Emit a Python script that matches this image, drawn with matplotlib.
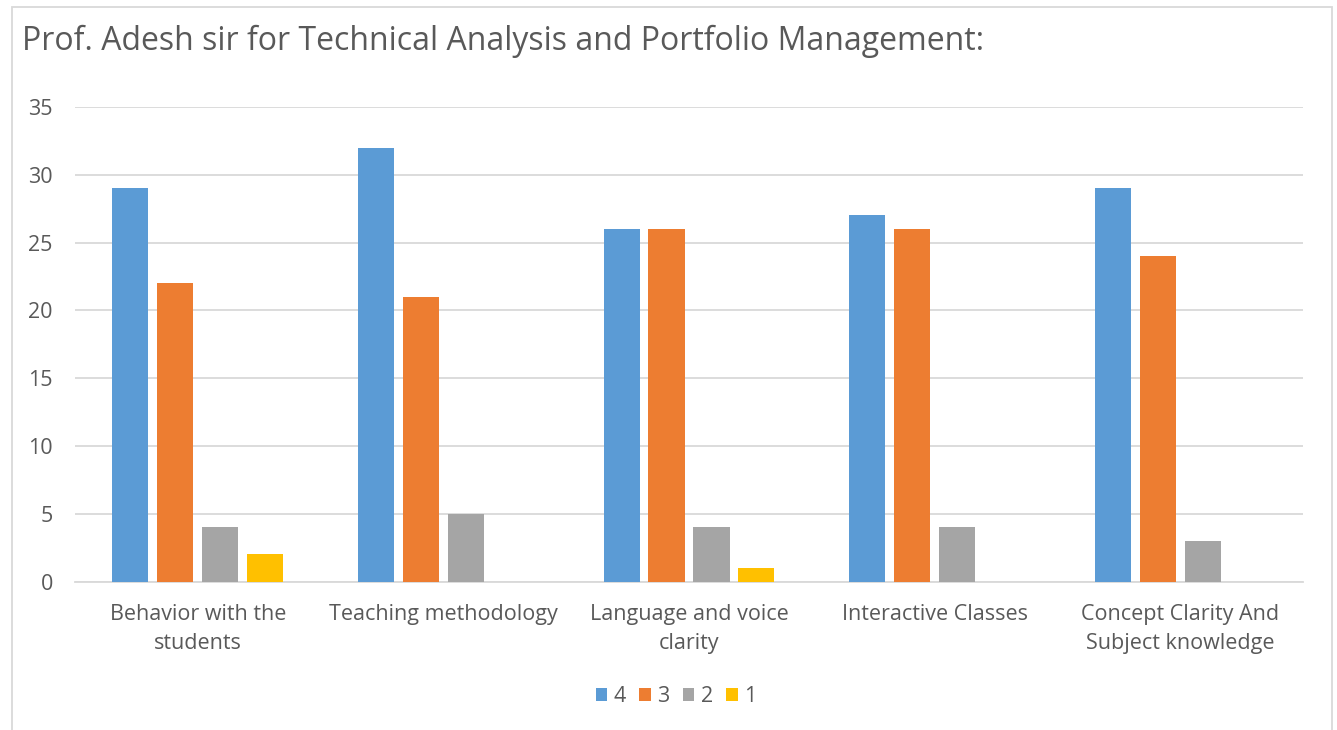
import numpy as np
import matplotlib
matplotlib.use("Agg")
import matplotlib.pyplot as plt
from matplotlib.patches import Rectangle

categories = ["Behavior with the\nstudents", "Teaching methodology",
              "Language and voice\nclarity", "Interactive Classes",
              "Concept Clarity And\nSubject knowledge"]
series_names = ["4", "3", "2", "1"]
score_4 = [29, 32, 26, 27, 29]
score_3 = [22, 21, 26, 26, 24]
score_2 = [4, 5, 4, 4, 3]
score_1 = [2, 0, 1, 0, 0]
colors = ["#5B9BD5", "#ED7D31", "#A5A5A5", "#FFC000"]

plt.rcParams["font.family"] = ["Open Sans", "DejaVu Sans"]
text_color = "#595959"
grid_color = "#D9D9D9"

fig = plt.figure(figsize=(13.37, 7.30), dpi=100)
ax = fig.add_axes([0.0561, 0.2034, 0.9185, 0.65])

x = np.arange(len(categories))
step = 0.183
width = 0.147
for i, (name, vals) in enumerate(zip(series_names, [score_4, score_3, score_2, score_1])):
    ax.bar(x + (i - 1.5) * step, vals, width, color=colors[i], label=name, zorder=3)

ax.set_xlim(-0.5, len(categories) - 0.5)
ax.set_ylim(0, 35)
ax.set_yticks(range(0, 36, 5))
ax.set_xticks(x)
ax.set_xticklabels(categories, linespacing=1.5)
ax.tick_params(axis="both", length=0, colors=text_color, labelsize=15.5)
ax.tick_params(axis="x", pad=16)
ax.tick_params(axis="y", pad=16)
ax.grid(axis="y", color=grid_color, linewidth=1.3, zorder=0)
for s in ["top", "right", "left"]:
    ax.spines[s].set_visible(False)
ax.spines["bottom"].set_color(grid_color)
ax.spines["bottom"].set_linewidth(1.3)

fig.text(0.0165, 1 - 50 / 730, "Prof. Adesh sir for Technical Analysis and Portfolio Management:",
         fontsize=23, color=text_color, va="baseline", ha="left")

leg = fig.legend(loc="center", bbox_to_anchor=(0.5056, 0.046), ncol=4, frameon=False,
                 fontsize=15.5, handlelength=0.55, handleheight=0.55, handletextpad=0.3,
                 columnspacing=0.6)
for t in leg.get_texts():
    t.set_color(text_color)

fig.patches.append(Rectangle((0.009, -0.02), 0.9873, 1.0104, transform=fig.transFigure,
                             fill=False, edgecolor=grid_color, linewidth=1.3))

fig.savefig("out.png", dpi=100)
